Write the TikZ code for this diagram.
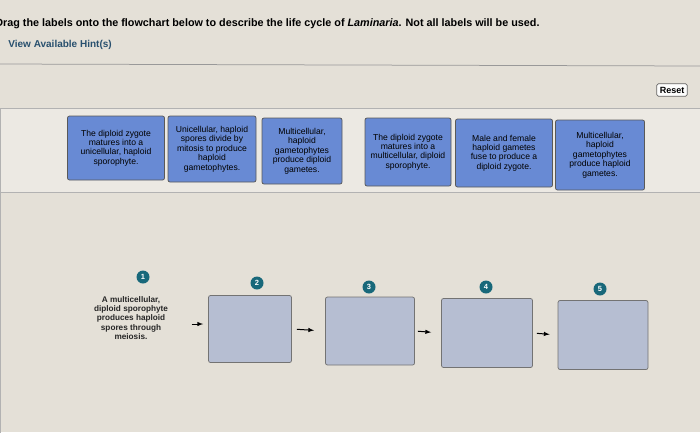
\documentclass[tikz,border=0pt]{standalone}
\usepackage{fontspec}
\setmainfont{Liberation Sans}
\definecolor{paper}{RGB}{228,224,215}
\definecolor{labelblue}{RGB}{104,138,212}
\definecolor{slotgray}{RGB}{182,190,210}
\definecolor{stepteal}{RGB}{24,104,122}
\definecolor{hintblue}{RGB}{40,80,110}
\tikzset{every picture/.style={line width=0.75pt}}
\tikzset{
  labelbox/.style={draw=black!65,fill=labelblue,rounded corners=2pt,align=center,font=\fontsize{8.6}{9.4}\selectfont,inner sep=1pt},
  slotbox/.style={draw=black!55,fill=slotgray,rounded corners=2pt},
  stepnum/.style={circle,fill=stepteal,text=white,font=\bfseries\fontsize{7.5}{7.5}\selectfont,inner sep=0pt,minimum size=13pt},
  flow/.style={-latex,line width=1pt}
}
\begin{document}
\begin{tikzpicture}[x=1pt,y=1pt,yscale=-1,xscale=1]
\useasboundingbox[fill=paper] (0,0) rectangle (700,432);

% header
\node[anchor=west,font=\bfseries\fontsize{10.8}{12}\selectfont,inner sep=0pt] (title) at (-5,24) {Drag the labels onto the flowchart below to describe the life cycle of \textit{Laminaria}. Not all labels will be used.};
\node[anchor=west,font=\bfseries\fontsize{10}{12}\selectfont,text=hintblue,inner sep=0pt] (hint) at (8,45) {View Available Hint(s)};
\draw[black!40] (0,64) -- (700,66);
\node[draw=black!60,fill=white!92!paper,rounded corners=1.5pt,font=\bfseries\fontsize{9}{10}\selectfont,inner sep=3pt] (reset) at (672,90) {Reset};

% panels
\draw[black!30,fill=white!30!paper] (0,108) rectangle (700,192);
\draw[black!30] (0,192) rectangle (700,440);

% labels
\node[labelbox,minimum width=97pt,minimum height=64pt] (lab1) at (116,148) {The diploid zygote\\matures into a\\unicellular, haploid\\sporophyte.};
\node[labelbox,minimum width=88pt,minimum height=66pt] (lab2) at (212,149) {Unicellular, haploid\\spores divide by\\mitosis to produce\\haploid\\gametophytes.};
\node[labelbox,minimum width=80pt,minimum height=66pt] (lab3) at (302,151) {Multicellular,\\haploid\\gametophytes\\produce diploid\\gametes.};
\node[labelbox,minimum width=86pt,minimum height=68pt] (lab4) at (408,152) {The diploid zygote\\matures into a\\multicellular, diploid\\sporophyte.};
\node[labelbox,minimum width=97pt,minimum height=68pt] (lab5) at (504,153) {Male and female\\haploid gametes\\fuse to produce a\\diploid zygote.};
\node[labelbox,minimum width=89pt,minimum height=70pt] (lab6) at (600,155) {Multicellular,\\haploid\\gametophytes\\produce haploid\\gametes.};

% flowchart
\node[stepnum] (n1) at (143,277) {1};
\node[stepnum] (n2) at (257,283) {2};
\node[stepnum] (n3) at (369,287) {3};
\node[stepnum] (n4) at (486,287) {4};
\node[stepnum] (n5) at (600,289) {5};

\node[align=center,font=\bfseries\fontsize{8.2}{9.2}\selectfont,text=black!85] (s1) at (131,318) {A multicellular,\\diploid sporophyte\\produces haploid\\spores through\\meiosis.};
\node[slotbox,minimum width=83pt,minimum height=67pt] (s2) at (250,329) {};
\node[slotbox,minimum width=89pt,minimum height=68pt] (s3) at (370,331) {};
\node[slotbox,minimum width=91pt,minimum height=69pt] (s4) at (487,333) {};
\node[slotbox,minimum width=90pt,minimum height=69pt] (s5) at (603,335) {};

\draw[flow,shorten <=20pt,shorten >=5pt] (s1.east |- 0,324) -- (s2.west |- 0,324);
\draw[flow,shorten <=5pt,shorten >=11pt] (s2.east) -- (s3.west);
\draw[flow,shorten <=3pt,shorten >=10pt] (s3.east) -- (s4.west);
\draw[flow,shorten <=4pt,shorten >=8pt] (s4.east) -- (s5.west);
\end{tikzpicture}
\end{document}
